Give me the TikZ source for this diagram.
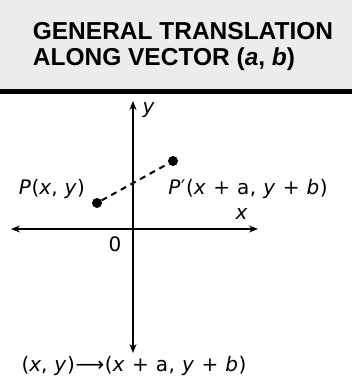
\documentclass[tikz,border=0pt]{standalone}
\usepackage{fontspec}
\setmainfont{Liberation Sans}
\newfontfamily\lblfont[LetterSpace=3]{DejaVu Sans}
\usetikzlibrary{arrows.meta}
\begin{document}
\begin{tikzpicture}[x=1pt,y=-1pt,
  axis/.style={line width=2pt,{Stealth[length=9pt,width=7pt]}-{Stealth[length=9pt,width=7pt]}},
  dot/.style={circle,fill=black,inner sep=0pt,minimum size=10pt},
  lbl/.style={font=\lblfont\fontsize{20}{20}\selectfont,inner sep=0pt},
  ttl/.style={font=\bfseries\fontsize{24.5}{24.5}\selectfont,inner sep=0pt}]
\useasboundingbox (0,0) rectangle (352,381);
\fill[gray!15] (0,0) rectangle (352,89);
\fill[black] (0,89) rectangle (352,94);
\node[ttl] (t1) at (183,31) {GENERAL TRANSLATION};
\node[ttl] (t2) at (164,59) {ALONG VECTOR (\textit{a}, \textit{b})};
\coordinate (O) at (133,229);
\coordinate (ytop) at (133,101);
\coordinate (ybot) at (133,353);
\coordinate (xl) at (11,229);
\coordinate (xr) at (258,229);
\draw[axis] (ybot) -- (ytop);
\draw[axis] (xl) -- (xr);
\node[lbl] (ylab) at (149,110) {\textit{y}};
\node[lbl] (xlab) at (242,214) {\textit{x}};
\node[lbl] (zero) at (115,244) {0};
\node[dot] (P) at (97,203) {};
\node[dot] (Pp) at (173,161) {};
\draw[line width=2pt,dash pattern=on 6pt off 5pt] (P) -- (Pp);
\node[lbl] (Plab) at (52,189) {\textit{P}(\textit{x}, \textit{y})};
\node[lbl] (Pplab) at (248,189) {\textit{P}′(\textit{x} + a, \textit{y} + \textit{b})};
\node[lbl] (rule) at (134,366) {(\textit{x}, \textit{y})⟶(\textit{x} + a, \textit{y} + \textit{b})};
\end{tikzpicture}
\end{document}
